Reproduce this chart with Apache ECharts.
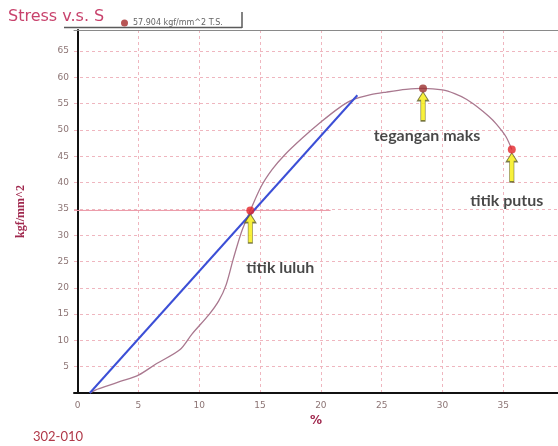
<!DOCTYPE html>
<html>
<head>
<meta charset="utf-8">
<script src="https://cdn.jsdelivr.net/npm/echarts@6/dist/echarts.min.js"></script>
<style>
  html, body { margin: 0; padding: 0; background: #fff; }
  #chart { width: 558px; height: 446px; }
</style>
</head>
<body>
<div id="chart"></div>
<script>
// strain (%) and stress (kgf/mm^2) of the test curve
const strain = [1.0, 1.5, 2.5, 3.5, 5.0, 6.5, 8.4, 9.4, 10.8, 11.6, 12.2, 12.8, 13.5, 14.2, 15.1, 16.0, 17.0, 18.5, 20.0, 21.5, 22.6, 24.1, 25.4, 27.0, 28.4, 30.0, 31.0, 32.0, 32.8, 33.8, 34.4, 35.2, 35.7]
const stress = [0, 0.6, 1.4, 2.2, 3.4, 5.6, 8.2, 11.2, 14.9, 17.5, 20.5, 25.5, 30.8, 34.7, 39.3, 42.5, 45.2, 48.5, 51.5, 54.2, 55.7, 56.7, 57.2, 57.7, 57.9, 57.6, 56.9, 55.8, 54.5, 52.6, 51.2, 48.8, 46.3]

// elastic (blue) line end points
const elasticX = [1.0, 23.0]
const elasticY = [0, 56.6]

// yield level guide line
const yieldLineX = [-0.3, 20.8]
const yieldLineY = [34.7, 34.7]

// marked points
const pointNames = ['titik luluh', 'tegangan maks', 'titik putus']
const pointX = [14.2, 28.4, 35.7]
const pointY = [34.7, 57.9, 46.3]

const xTicks = [0, 5, 10, 15, 20, 25, 30, 35]
const yTicks = [0, 5, 10, 15, 20, 25, 30, 35, 40, 45, 50, 55, 60, 65]

const tensileLabel = '57.904 kgf/mm^2 T.S.'

// label placement for each marked point (pixels from the point)
const labelOffsets = [[30, 57], [4, 47], [-5, 51]]
const pointColors = ['#e3262a', '#9b3030', '#e3262a']

const zip = (a, b) => a.map((v, i) => [v, b[i]])

const chart = echarts.init(document.getElementById('chart'))

const gridColor = '#efb6bf'
const tickColor = '#8c7474'

const option = {
  animation: false,
  grid: { left: 74, right: -6, top: 30, bottom: 53 },
  legend: {
    left: 116,
    top: 14,
    data: [{ name: tensileLabel, icon: 'circle' }],
    itemWidth: 7,
    itemHeight: 7,
    itemGap: 4,
    textStyle: { fontSize: 8, color: '#666', fontFamily: 'DejaVu Sans' }
  },
  xAxis: [{
    type: 'value',
    min: -0.3,
    max: 39.5,
    name: '%',
    nameLocation: 'middle',
    nameGap: 19,
    nameTextStyle: { color: '#a0284e', fontSize: 12, fontWeight: 'bold', fontFamily: 'DejaVu Sans' },
    axisLine: { show: true, lineStyle: { color: '#111', width: 2 } },
    axisTick: { show: false, customValues: xTicks },
    axisLabel: { customValues: xTicks, color: tickColor, fontSize: 9, margin: 8, fontFamily: 'DejaVu Sans' },
    splitLine: { show: true, lineStyle: { color: gridColor, type: [3, 3], width: 1 } }
  }, {
    type: 'value',
    position: 'top',
    min: -0.3,
    max: 39.5,
    axisLine: { show: true, lineStyle: { color: '#8a8a8a', width: 1 } },
    axisTick: { show: false },
    axisLabel: { show: false },
    splitLine: { show: false }
  }],
  yAxis: {
    type: 'value',
    min: 0,
    max: 69,
    name: 'kgf/mm^2',
    nameLocation: 'middle',
    nameGap: 47,
    nameTextStyle: { color: '#a0284e', fontSize: 12, fontWeight: 'bold', fontFamily: 'Liberation Serif' },
    axisLine: { show: true, lineStyle: { color: '#111', width: 2 } },
    axisTick: { show: false, customValues: yTicks },
    axisLabel: {
      customValues: yTicks,
      color: tickColor,
      fontSize: 9,
      margin: 5,
      fontFamily: 'DejaVu Sans',
      formatter: v => (v === 0 ? '' : String(v))
    },
    splitLine: { show: true, lineStyle: { color: gridColor, type: [3, 3], width: 1 } }
  },
  series: [
    {
      name: 'yield level',
      type: 'line',
      data: zip(yieldLineX, yieldLineY),
      symbol: 'none',
      lineStyle: { color: '#eb97a6', width: 1 },
      z: 2
    },
    {
      name: 'curve',
      type: 'line',
      data: zip(strain, stress),
      symbol: 'none',
      smooth: 0.3,
      lineStyle: { color: '#a9788f', width: 1.3 },
      z: 3
    },
    {
      name: 'elastic',
      type: 'line',
      data: zip(elasticX, elasticY),
      symbol: 'none',
      lineStyle: { color: '#3c4fd6', width: 2 },
      z: 4
    },
    {
      name: 'arrows',
      type: 'scatter',
      data: zip(pointX, pointY),
      symbol: 'path://M5,0 L10,9 L7,9 L7,30 L3,30 L3,9 L0,9 Z',
      symbolSize: [11, 29],
      symbolOffset: [0, 18],
      itemStyle: { color: '#f6ee0a', borderColor: '#5e5e30', borderWidth: 1 },
      z: 5
    },
    {
      name: tensileLabel,
      type: 'scatter',
      data: zip(pointX, pointY).map((p, i) => ({
        value: p,
        name: pointNames[i],
        itemStyle: { color: pointColors[i] },
        label: { offset: labelOffsets[i] }
      })),
      symbol: 'circle',
      symbolSize: 8,
      itemStyle: { color: '#a52a2a' },
      label: {
        show: true,
        position: 'inside',
        formatter: p => p.name,
        color: '#1a1a1a',
        fontSize: 16,
        fontWeight: 'bold',
        fontFamily: 'Lato'
      },
      z: 6
    }
  ],
  graphic: [
    {
      type: 'text',
      left: 8,
      top: 9,
      style: { text: 'Stress v.s. S', fill: '#c8426c', font: '16px "DejaVu Sans"' }
    },
    {
      type: 'line',
      shape: { x1: 64, y1: 27.5, x2: 242, y2: 27.5 },
      style: { stroke: '#5a5a5a', lineWidth: 1.5 }
    },
    {
      type: 'line',
      shape: { x1: 242, y1: 12, x2: 242, y2: 28 },
      style: { stroke: '#5a5a5a', lineWidth: 1.5 }
    },
    {
      type: 'text',
      left: 33,
      top: 430,
      style: { text: '302-010', fill: '#b03848', font: '13px "Lato"' }
    }
  ]
}

chart.setOption(option)
</script>
</body>
</html>
